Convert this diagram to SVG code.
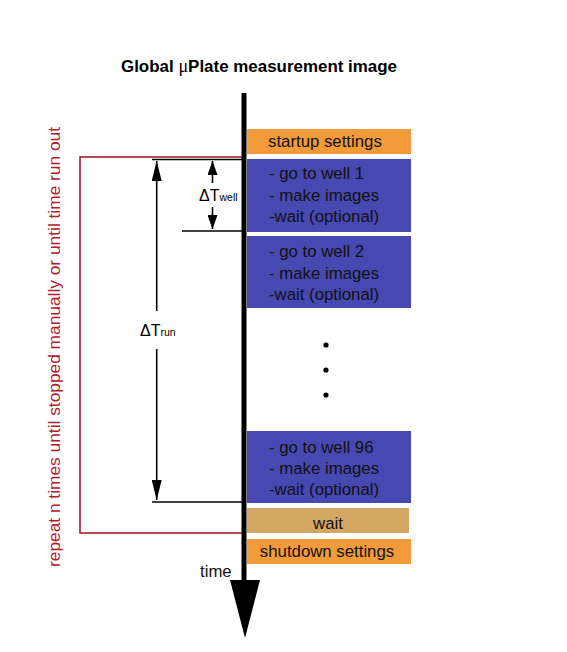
<svg xmlns="http://www.w3.org/2000/svg" width="567" height="652" viewBox="0 0 567 652">
<style>
.box{stroke:none}
.blue{fill:#4848B2}
.orange{fill:#F39A3B}
.tan{fill:#D3A762}
.t{font-family:"Liberation Sans",Arial,sans-serif;font-size:16.8px;fill:#111}
.dim{stroke:#000;stroke-width:1.6;fill:none}
.lbl{font-family:"Liberation Sans",Arial,sans-serif;font-size:16px;fill:#000}
</style>
<defs>
<marker id="ahw" viewBox="0 0 14 10" refX="14" refY="5" markerWidth="14" markerHeight="10" markerUnits="userSpaceOnUse" orient="auto">
<path d="M0,0 L14,5 L0,10 Z" fill="#000"/>
</marker>
<marker id="ahr" viewBox="0 0 20 10" refX="20" refY="5" markerWidth="20" markerHeight="10" markerUnits="userSpaceOnUse" orient="auto">
<path d="M0,0 L20,5 L0,10 Z" fill="#000"/>
</marker>
</defs>
<rect width="567" height="652" fill="#fff"/>

<text x="259" y="72" text-anchor="middle" font-family="Liberation Sans, Arial, sans-serif" font-weight="bold" font-size="16.8" fill="#000" textLength="276" lengthAdjust="spacingAndGlyphs">Global <tspan font-family="Liberation Serif, serif" font-weight="normal" font-size="18">μ</tspan>Plate measurement image</text>

<g id="repeat-loop">
<rect x="80" y="157" width="163" height="376" fill="none" stroke="#A3202C" stroke-width="1.6"/>
<text transform="translate(60,347) rotate(-90)" text-anchor="middle" font-family="Liberation Sans, Arial, sans-serif" font-size="17" fill="#B0202C" textLength="440" lengthAdjust="spacingAndGlyphs">repeat n times until stopped manually or until time run out</text>
</g>

<g id="startup">
<rect class="box orange" x="247" y="129" width="164" height="25"/>
<text class="t" x="268" y="147">startup settings</text>
</g>
<g id="well1">
<rect class="box blue" x="247" y="159" width="164" height="73"/>
<text class="t" x="269" y="179">- go to well 1</text>
<text class="t" x="269" y="200.5">- make images</text>
<text class="t" x="269" y="222">-wait (optional)</text>
</g>
<g id="well2">
<rect class="box blue" x="247" y="236" width="164" height="72"/>
<text class="t" x="269" y="257">- go to well 2</text>
<text class="t" x="269" y="278.5">- make images</text>
<text class="t" x="269" y="300">-wait (optional)</text>
</g>
<g id="ellipsis">
<circle cx="326" cy="345" r="2.6" fill="#000"/>
<circle cx="326" cy="370" r="2.6" fill="#000"/>
<circle cx="326" cy="395" r="2.6" fill="#000"/>
</g>
<g id="well96">
<rect class="box blue" x="247" y="431" width="164" height="72"/>
<text class="t" x="269" y="453">- go to well 96</text>
<text class="t" x="269" y="474">- make images</text>
<text class="t" x="269" y="495">-wait (optional)</text>
</g>
<g id="wait">
<rect class="box tan" x="247" y="508" width="162" height="25"/>
<text class="t" x="328" y="529" text-anchor="middle">wait</text>
</g>
<g id="shutdown">
<rect class="box orange" x="247" y="539" width="164" height="25"/>
<text class="t" x="327" y="557" text-anchor="middle">shutdown settings</text>
</g>

<g id="connectors">
<line class="dim" x1="152" y1="159.5" x2="243" y2="159.5"/>
<line class="dim" x1="182" y1="231" x2="243" y2="231"/>
<line class="dim" x1="152" y1="502" x2="243" y2="502"/>
<line class="dim" x1="212.5" y1="183" x2="212.5" y2="161" marker-end="url(#ahw)"/>
<line class="dim" x1="212.5" y1="207" x2="212.5" y2="229" marker-end="url(#ahw)"/>
<line class="dim" x1="156.7" y1="311" x2="156.7" y2="161" marker-end="url(#ahr)"/>
<line class="dim" x1="156.7" y1="349" x2="156.7" y2="500" marker-end="url(#ahr)"/>
<line x1="244" y1="93" x2="244" y2="582" stroke="#000" stroke-width="5"/>
<path d="M230,580 L260,580 L245,638 Z" fill="#000"/>
</g>

<text class="lbl" x="199" y="201">ΔT<tspan font-size="10.5">well</tspan></text>
<text class="lbl" x="140" y="336">ΔT<tspan font-size="10.5">run</tspan></text>
<text class="t" x="200" y="577">time</text>
</svg>
